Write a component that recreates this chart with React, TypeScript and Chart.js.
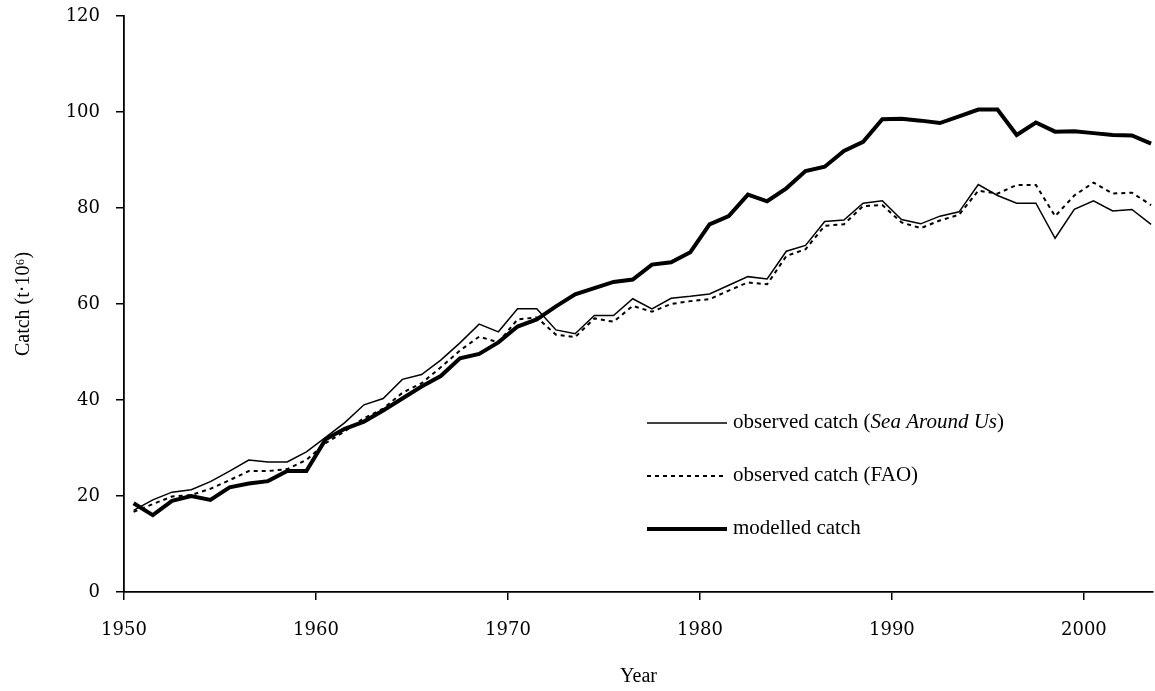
import { useEffect, useRef } from "react";
import { Chart, registerables } from "chart.js";

Chart.register(...registerables);

const years = [
  1950, 1951, 1952, 1953, 1954, 1955, 1956, 1957, 1958, 1959,
  1960, 1961, 1962, 1963, 1964, 1965, 1966, 1967, 1968, 1969,
  1970, 1971, 1972, 1973, 1974, 1975, 1976, 1977, 1978, 1979,
  1980, 1981, 1982, 1983, 1984, 1985, 1986, 1987, 1988, 1989,
  1990, 1991, 1992, 1993, 1994, 1995, 1996, 1997, 1998, 1999,
  2000, 2001, 2002, 2003,
];

const seaAroundUs = [
  17.0, 19.2, 20.8, 21.3, 23.0, 25.2, 27.5, 27.1, 27.1, 29.2,
  32.2, 35.3, 39.0, 40.3, 44.3, 45.3, 48.3, 51.9, 55.8, 54.2,
  59.0, 59.0, 54.6, 53.8, 57.6, 57.6, 61.1, 59.0, 61.2, 61.6,
  62.1, 63.9, 65.7, 65.2, 71.0, 72.2, 77.2, 77.5, 81.0, 81.5,
  77.6, 76.7, 78.3, 79.2, 84.9, 82.6, 81.0, 81.0, 73.7, 79.7,
  81.5, 79.4, 79.7, 76.6,
];

const fao = [
  16.7, 18.3, 19.9, 20.2, 21.5, 23.3, 25.2, 25.2, 25.6, 27.5,
  31.0, 33.5, 36.2, 38.2, 41.5, 43.5, 46.8, 50.3, 53.2, 52.0,
  56.8, 57.2, 53.6, 53.1, 57.0, 56.3, 59.6, 58.4, 60.0, 60.6,
  61.0, 62.8, 64.5, 64.1, 70.0, 71.4, 76.3, 76.6, 80.4, 80.6,
  77.0, 75.8, 77.4, 78.6, 83.6, 83.0, 84.8, 84.8, 78.3, 82.6,
  85.3, 83.0, 83.2, 80.6,
];

const modelled = [
  18.5, 16.0, 19.0, 20.0, 19.2, 21.8, 22.6, 23.1, 25.2, 25.2,
  31.8, 34.0, 35.5, 37.8, 40.3, 42.8, 45.0, 48.7, 49.6, 52.0,
  55.3, 56.8, 59.5, 62.0, 63.3, 64.6, 65.1, 68.2, 68.7, 70.8,
  76.6, 78.3, 82.8, 81.4, 84.1, 87.7, 88.6, 91.9, 93.8, 98.5,
  98.6, 98.2, 97.7, 99.1, 100.5, 100.5, 95.2, 97.8, 95.9, 96.0,
  95.6, 95.2, 95.1, 93.4,
];

const xTickYears = [1950, 1960, 1970, 1980, 1990, 2000];
const yTickValues = [0, 20, 40, 60, 80, 100, 120];

const FONT = "'Liberation Serif', 'Times New Roman', serif";
const TICK_FONT = "'DejaVu Serif', serif";

export default function App() {
  const ref = useRef<HTMLCanvasElement>(null);

  useEffect(() => {
    document.body.style.margin = "0";
    const canvas = ref.current;
    if (!canvas) return;
    const toPts = (vals: number[]) => years.map((y, i) => ({ x: y + 0.5, y: vals[i] }));

    const legendPlugin = {
      id: "customLegend",
      afterDraw(chart: any) {
        const ctx = chart.ctx as CanvasRenderingContext2D;
        const x0 = 647;
        const x1 = 727;
        const tx = 733;
        const rows = [
          { y: 423, width: 1.5, dash: [] as number[], parts: [["observed catch (", false], ["Sea Around Us", true], [")", false]] },
          { y: 476, width: 2, dash: [4, 4], parts: [["observed catch (FAO)", false]] },
          { y: 529, width: 4, dash: [] as number[], parts: [["modelled catch", false]] },
        ];
        ctx.save();
        for (const r of rows) {
          ctx.beginPath();
          ctx.setLineDash(r.dash);
          ctx.lineWidth = r.width;
          ctx.strokeStyle = "#000";
          ctx.moveTo(x0, r.y);
          ctx.lineTo(x1, r.y);
          ctx.stroke();
          ctx.setLineDash([]);
          let x = tx;
          ctx.fillStyle = "#000";
          ctx.textBaseline = "middle";
          ctx.textAlign = "left";
          for (const [t, it] of r.parts as [string, boolean][]) {
            ctx.font = `${it ? "italic " : ""}21px ${FONT}`;
            ctx.fillText(t, x, r.y - 1);
            x += ctx.measureText(t).width;
          }
        }
        ctx.restore();
      },
    };

    const chart = new Chart(canvas, {
      type: "line",
      data: {
        datasets: [
          {
            label: "observed catch (Sea Around Us)",
            data: toPts(seaAroundUs),
            borderColor: "#000",
            borderWidth: 1.5,
            pointRadius: 0,
            tension: 0,
            fill: false,
          },
          {
            label: "observed catch (FAO)",
            data: toPts(fao),
            borderColor: "#000",
            borderWidth: 2,
            borderDash: [4, 4],
            pointRadius: 0,
            tension: 0,
            fill: false,
          },
          {
            label: "modelled catch",
            data: toPts(modelled),
            borderColor: "#000",
            borderWidth: 4,
            pointRadius: 0,
            tension: 0,
            fill: false,
          },
        ],
      },
      options: {
        responsive: false,
        animation: false,
        layout: { padding: { top: 16, right: 2, left: 0, bottom: 0 } },
        plugins: { legend: { display: false }, tooltip: { enabled: false } },
        scales: {
          x: {
            type: "linear",
            min: 1950,
            max: 2003.6,
            afterBuildTicks: (s: any) => {
              s.ticks = xTickYears.map((v) => ({ value: v }));
            },
            afterFit: (s: any) => {
              s.height = 99;
              s.paddingLeft = 0;
              s.paddingRight = 0;
            },
            grid: { drawOnChartArea: false, drawTicks: true, tickLength: 8, color: "#000", lineWidth: 1.5 },
            border: { color: "#000", width: 1.8 },
            ticks: {
              color: "#000",
              font: { family: TICK_FONT, size: 18 },
              padding: 20,
              maxRotation: 0,
              autoSkip: false,
              callback: (v: any) => String(v),
            },
            title: {
              display: true,
              text: "Year",
              color: "#000",
              font: { family: FONT, size: 20 },
              padding: { top: 0, bottom: 2 },
            },
          },
          y: {
            min: 0,
            max: 120,
            afterBuildTicks: (s: any) => {
              s.ticks = yTickValues.map((v) => ({ value: v }));
            },
            afterFit: (s: any) => {
              s.width = 124;
              s.paddingTop = 0;
              s.paddingBottom = 0;
            },
            grid: { drawOnChartArea: false, drawTicks: true, tickLength: 8, color: "#000", lineWidth: 1.5 },
            border: { color: "#000", width: 1.8 },
            ticks: {
              color: "#000",
              font: { family: TICK_FONT, size: 18 },
              padding: 16,
              callback: (v: any) => String(v),
            },
            title: {
              display: true,
              text: "Catch (t·10⁶)",
              color: "#000",
              font: { family: FONT, size: 20 },
              padding: { top: 12, bottom: 0 },
            },
          },
        },
      },
      plugins: [legendPlugin],
    });

    return () => chart.destroy();
  }, []);

  return <canvas ref={ref} width={1155} height={691} style={{ display: "block" }} />;
}
